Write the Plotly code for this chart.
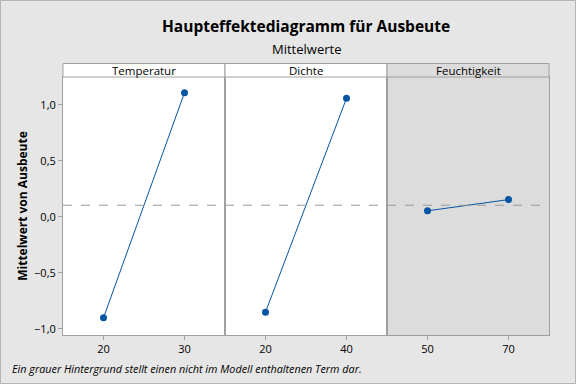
import plotly.graph_objects as go
from plotly.subplots import make_subplots

factors = ["Temperatur", "Dichte", "Feuchtigkeit"]
levels = [[20, 30], [20, 40], [50, 70]]
means = [[-0.90, 1.11], [-0.85, 1.06], [0.055, 0.155]]
overall_mean = 0.105
x_ranges = [[15, 35], [10, 50], [40, 80]]
in_model = [True, True, False]
y_ticks = [-1.0, -0.5, 0.0, 0.5, 1.0]

line_col = "#0455a3"
border = "#a0a0a0"
gray_bg = "#dcdcdc"
outer_bg = "#e6e6e6"
font_fam = "Open Sans, Noto Sans, sans-serif"

fig = make_subplots(rows=1, cols=3, shared_yaxes=True, horizontal_spacing=0)

for i in range(3):
    fig.add_trace(go.Scatter(
        x=levels[i], y=means[i], mode="lines+markers",
        line=dict(color=line_col, width=1),
        marker=dict(color=line_col, size=7),
        showlegend=False, hoverinfo="skip"), row=1, col=i + 1)
    fig.update_xaxes(range=x_ranges[i], tickvals=levels[i], ticks="outside", ticklen=4,
                     tickcolor=border, showline=True, linecolor=border, mirror=True,
                     showgrid=False, zeroline=False,
                     tickfont=dict(size=11, color="#000", family=font_fam), row=1, col=i + 1)
    xd = "x domain" if i == 0 else f"x{i+1} domain"
    # header strip
    fig.add_shape(type="rect", xref=xd, yref="paper", x0=0, x1=1, y0=1, y1=1 + 13.5 / 258,
                  fillcolor="white" if in_model[i] else gray_bg,
                  line=dict(color=border, width=1), layer="above")
    fig.add_annotation(xref=xd, yref="paper", x=0.5, y=1 + 6.5 / 258, text=factors[i],
                       showarrow=False, font=dict(size=11.5, color="#000", family=font_fam),
                       yanchor="middle")
    if not in_model[i]:
        fig.add_shape(type="rect", xref=xd, yref="y domain", x0=0, x1=1, y0=0, y1=1,
                      fillcolor=gray_bg, line=dict(width=0), layer="below")

fig.update_yaxes(range=[-1.054, 1.25], tickvals=y_ticks, tickformat=".1f", showgrid=False,
                 zeroline=False, showline=True, linecolor=border, mirror=True)
fig.update_yaxes(ticks="outside", ticklen=4, tickcolor=border,
                 tickfont=dict(size=11, color="#000", family=font_fam),
                 title=dict(text="<b>Mittelwert von Ausbeute</b>",
                            font=dict(size=12, color="#000", family=font_fam), standoff=3),
                 row=1, col=1)

fig.add_shape(type="line", xref="paper", yref="y", x0=0, x1=1, y0=overall_mean, y1=overall_mean,
              line=dict(color="#999999", width=1, dash="dash"), layer="above")

# outer border
fig.add_shape(type="rect", xref="paper", yref="paper", x0=-62.5 / 486, x1=1 + 26.5 / 486,
              y0=-48.5 / 258, y1=1 + 76.5 / 258, line=dict(color="#b4b4b4", width=1))

fig.add_annotation(xref="paper", yref="paper", x=0.5, y=1 + 51 / 258,
                   text="<b>Haupteffektediagramm für Ausbeute</b>",
                   showarrow=False, font=dict(size=15.5, color="#000", family=font_fam), yanchor="middle")
fig.add_annotation(xref="paper", yref="paper", x=0.5, y=1 + 28 / 258, text="Mittelwerte",
                   showarrow=False, font=dict(size=13, color="#000", family=font_fam), yanchor="middle")
fig.add_annotation(xref="paper", yref="paper", x=-53 / 486, y=-33 / 258, xanchor="left", yanchor="middle",
                   text="<i>Ein grauer Hintergrund stellt einen nicht im Modell enthaltenen Term dar.</i>",
                   showarrow=False, font=dict(size=10.8, color="#000", family=font_fam))

fig.update_layout(width=576, height=384, margin=dict(l=63, r=27, t=77, b=49),
                  paper_bgcolor=outer_bg, plot_bgcolor="white", separators=",.",
                  font=dict(family=font_fam))

fig.write_html("out.html", config={"displayModeBar": False},
               post_script="document.body.style.margin='0';")
